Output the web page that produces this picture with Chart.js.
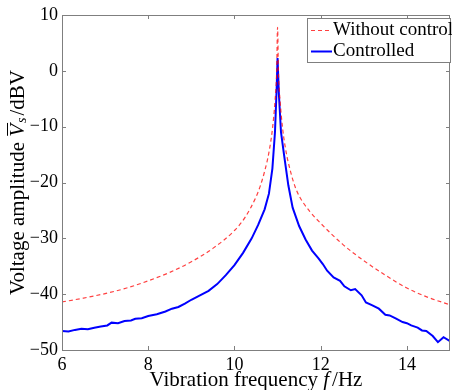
<!DOCTYPE html>
<html>
<head>
<meta charset="utf-8">
<script src="https://cdn.jsdelivr.net/npm/chart.js@4"></script>
<style>
  html, body { margin: 0; padding: 0; background: #fff; }
  #wrap { width: 452px; height: 390px; position: relative; }
</style>
</head>
<body>
<div id="wrap"><canvas id="main-chart"></canvas></div>
<script>
// tick labels
var xTicks = [6, 8, 10, 12, 14];
var yTicks = [-50, -40, -30, -20, -10, 0, 10];

// without control (red dashed)
var freqWithout = [6.0, 6.5, 7.0, 7.5, 8.0, 8.5, 9.0, 9.5, 10.0, 10.25, 10.5, 10.6, 10.7, 10.8, 10.88, 10.94, 10.98, 11.0,
  11.02, 11.06, 11.12, 11.2, 11.3, 11.4, 11.5, 11.75, 12.0, 12.5, 13.0, 13.5, 14.0, 14.5, 15.0];
var ampWithout = [-41.4, -40.7, -39.9, -38.9, -37.6, -36.1, -34.2, -31.8, -28.6, -26.2, -22.6, -20.6, -18.0, -14.6, -10.5, -5.5, 0.0, 7.8,
  0.0, -5.5, -10.5, -14.6, -18.0, -20.6, -22.4, -25.2, -27.3, -31.0, -34.0, -36.6, -38.9, -40.6, -41.9];

// controlled (blue solid)
var freqControlled = [6.0, 6.15, 6.3, 6.45, 6.6, 6.75, 6.9, 7.05, 7.15, 7.3, 7.45, 7.6, 7.7, 7.85, 8.0, 8.2, 8.4, 8.55, 8.7, 8.85,
  9.0, 9.2, 9.4, 9.6, 9.8, 10.0, 10.2, 10.4, 10.55, 10.7, 10.8, 10.88, 10.94, 10.98, 11.0,
  11.03, 11.08, 11.15, 11.25, 11.35, 11.5, 11.65, 11.8, 11.95, 12.05, 12.15, 12.3, 12.45, 12.55, 12.7, 12.8, 12.95,
  13.05, 13.2, 13.35, 13.5, 13.6, 13.75, 13.9, 14.0, 14.1, 14.25, 14.35, 14.45, 14.6, 14.72, 14.85, 15.0];
var ampControlled = [-46.6, -46.7, -46.4, -46.2, -46.3, -46.0, -45.8, -45.6, -45.1, -45.2, -44.8, -44.7, -44.4, -44.3, -43.9, -43.6, -43.1, -42.6, -42.3, -41.7,
  -41.0, -40.2, -39.4, -38.2, -36.6, -34.8, -32.6, -30.0, -27.6, -24.8, -22.0, -17.5, -11.0, -3.0, 2.3,
  -4.0, -11.0, -15.0, -20.5, -24.5, -27.8, -30.2, -32.2, -33.6, -34.6, -35.8, -37.0, -37.6, -38.6, -39.3, -39.1, -40.2,
  -41.5, -42.0, -42.6, -43.7, -43.8, -44.4, -45.0, -45.2, -45.6, -46.0, -46.5, -46.6, -47.5, -48.6, -47.7, -48.4];

var FONT = "'Liberation Serif', 'Times New Roman', serif";

function toPoints(xs, ys) {
  return xs.map(function (x, i) { return { x: x, y: ys[i] }; });
}

// draws the frame, inward ticks, axis titles and the legend
var decorPlugin = {
  id: 'decor',
  afterDraw: function (chart) {
    var ctx = chart.ctx;
    var a = chart.chartArea;
    var xs = chart.scales.x, ys = chart.scales.y;
    var t = 4;
    ctx.save();
    ctx.strokeStyle = '#7f7f7f';
    ctx.lineWidth = 1;
    ctx.strokeRect(a.left + 0.5, a.top + 0.5, a.right - a.left - 1, a.bottom - a.top);
    ctx.beginPath();
    xTicks.forEach(function (v) {
      var px = Math.round(xs.getPixelForValue(v)) + 0.5;
      ctx.moveTo(px, a.bottom); ctx.lineTo(px, a.bottom - t);
      ctx.moveTo(px, a.top); ctx.lineTo(px, a.top + t);
    });
    yTicks.forEach(function (v) {
      var py = Math.round(ys.getPixelForValue(v)) + 0.5;
      ctx.moveTo(a.left, py); ctx.lineTo(a.left + t, py);
      ctx.moveTo(a.right, py); ctx.lineTo(a.right - t, py);
    });
    ctx.stroke();

    // x title
    ctx.fillStyle = '#000';
    ctx.textBaseline = 'middle';
    var partsX = [
      { s: 'Vibration frequency ', f: '21px ' + FONT, gap: 0 },
      { s: 'f', f: 'italic 21px ' + FONT, gap: 3 },
      { s: '/Hz', f: '21px ' + FONT, gap: 0 }
    ];
    var w = 0;
    partsX.forEach(function (p) { ctx.font = p.f; w += ctx.measureText(p.s).width + p.gap; });
    var cx = (a.left + a.right) / 2 - w / 2;
    partsX.forEach(function (p) {
      ctx.font = p.f; ctx.textAlign = 'left';
      ctx.fillText(p.s, cx, 380);
      cx += ctx.measureText(p.s).width + p.gap;
    });

    // y title (rotated)
    ctx.save();
    ctx.translate(18, (a.top + a.bottom) / 2);
    ctx.rotate(-Math.PI / 2);
    var p1 = 'Voltage amplitude ', p2 = 'V', p3 = 's', p4 = '/dBV';
    var fN = '21px ' + FONT, fI = 'italic 21px ' + FONT, fS = 'italic 14px ' + FONT;
    ctx.font = fN; var w1 = ctx.measureText(p1).width, w4 = ctx.measureText(p4).width;
    ctx.font = fI; var w2 = ctx.measureText(p2).width;
    ctx.font = fS; var w3 = ctx.measureText(p3).width + 3;
    var tw = w1 + w2 + w3 + w4;
    var x0 = -tw / 2;
    ctx.font = fN; ctx.fillText(p1, x0, 0); x0 += w1;
    ctx.font = fI; ctx.fillText(p2, x0, 0);
    ctx.strokeStyle = '#000'; ctx.lineWidth = 1;
    ctx.beginPath(); ctx.moveTo(x0 + 1, -10.5); ctx.lineTo(x0 + w2 + 1, -10.5); ctx.stroke();
    x0 += w2;
    ctx.font = fS; ctx.fillText(p3, x0 + 1, 4); x0 += w3;
    ctx.font = fN; ctx.fillText(p4, x0, 0);
    ctx.restore();

    // legend
    var lx = 307, ly = 18, lw = 144, lh = 44;
    ctx.fillStyle = '#fff';
    ctx.fillRect(lx, ly, lw, lh);
    ctx.strokeStyle = '#7f7f7f';
    ctx.strokeRect(lx + 0.5, ly + 0.5, lw - 1, lh);
    var rows = [{ ds: chart.data.datasets[0], y: 30 }, { ds: chart.data.datasets[1], y: 51 }];
    rows.forEach(function (r) {
      ctx.save();
      ctx.strokeStyle = r.ds.borderColor;
      ctx.lineWidth = r.ds.borderWidth;
      ctx.setLineDash(r.ds.borderDash || []);
      ctx.beginPath(); ctx.moveTo(311, r.y + 0.5); ctx.lineTo(332, r.y + 0.5); ctx.stroke();
      ctx.restore();
      ctx.fillStyle = '#000';
      ctx.font = '19px ' + FONT;
      ctx.textAlign = 'left';
      ctx.fillText(r.ds.label, 333, r.y);
    });
    ctx.restore();
  }
};

var chart = new Chart(document.getElementById('main-chart'), {
  type: 'line',
  data: {
    datasets: [
      {
        label: 'Without control',
        data: toPoints(freqWithout, ampWithout),
        borderColor: 'rgba(255,0,0,0.75)',
        borderWidth: 1.2,
        borderDash: [4, 3],
        pointRadius: 0,
        cubicInterpolationMode: 'monotone',
        fill: false
      },
      {
        label: 'Controlled',
        data: toPoints(freqControlled, ampControlled),
        borderColor: '#0000ff',
        borderWidth: 2,
        pointRadius: 0,
        tension: 0,
        fill: false
      }
    ]
  },
  options: {
    responsive: true,
    maintainAspectRatio: false,
    animation: false,
    layout: { padding: { top: 15, right: 2, left: 0, bottom: 0 } },
    plugins: { legend: { display: false }, tooltip: { enabled: false } },
    scales: {
      x: {
        type: 'linear',
        min: 6, max: 15,
        afterBuildTicks: function (s) { s.ticks = xTicks.map(function (v) { return { value: v }; }); },
        afterFit: function (s) { s.height = 40; },
        grid: { display: false, drawTicks: false },
        border: { display: false },
        ticks: { color: '#000', font: { family: FONT, size: 18 }, padding: 4, maxRotation: 0 }
      },
      y: {
        type: 'linear',
        min: -50, max: 10,
        afterBuildTicks: function (s) { s.ticks = yTicks.map(function (v) { return { value: v }; }); },
        afterFit: function (s) { s.width = 62; },
        grid: { display: false, drawTicks: false },
        border: { display: false },
        ticks: {
          color: '#000', font: { family: FONT, size: 18 }, padding: 4,
          callback: function (v) { return String(v).replace('-', '\u2212'); }
        }
      }
    }
  },
  plugins: [decorPlugin]
});
</script>
</body>
</html>
